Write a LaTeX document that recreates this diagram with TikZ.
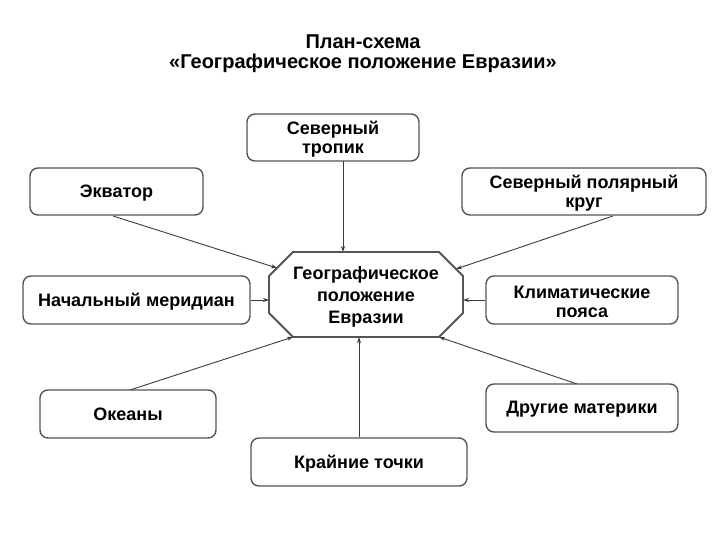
\documentclass[tikz,border=0pt]{standalone}
\usepackage{fontspec}
\setmainfont{Liberation Sans}
\usetikzlibrary{arrows.meta}
\definecolor{edge}{HTML}{555555}
\definecolor{lin}{HTML}{3A3A3A}
\tikzset{
  box/.style={draw=edge, line width=1.4pt, rounded corners=8pt, inner sep=0pt},
  lbl/.style={align=center, font=\fontsize{18}{19}\selectfont\bfseries, inner sep=0pt},
  conn/.style={draw=lin, line width=0.9pt, -{Stealth[length=6pt,width=4pt]}},
}
\begin{document}
\begin{tikzpicture}[x=1pt,y=-1pt]
\useasboundingbox (0,0) rectangle (720,540);
% title
\node[font=\fontsize{20}{20}\selectfont\bfseries, align=center] (title) at (363,54)
  {План-схема\\«Географическое положение Евразии»};
% boxes
\node[box, minimum width=172pt, minimum height=47pt] (trop) at (333,137.5) {};
\node[box, minimum width=173pt, minimum height=47pt] (ekv) at (116.5,191.5) {};
\node[box, minimum width=244pt, minimum height=47pt] (pol) at (584,191.5) {};
\node[box, minimum width=227pt, minimum height=48pt] (mer) at (136.5,300) {};
\node[box, minimum width=192pt, minimum height=48pt] (klim) at (582,300) {};
\node[box, minimum width=176pt, minimum height=48pt] (oke) at (128,414) {};
\node[box, minimum width=192pt, minimum height=48pt] (mat) at (582,408) {};
\node[box, minimum width=216pt, minimum height=48pt] (kr) at (359,462) {};
% labels
\node[lbl] (tropL) at ([yshift=-2pt]trop.center) {Северный\\тропик};
\node[lbl] (ekvL) at ([yshift=-2pt]ekv.center) {Экватор};
\node[lbl] (polL) at ([yshift=-2pt]pol.center) {Северный полярный\\круг};
\node[lbl] (merL) at ([yshift=-1.5pt]mer.center) {Начальный меридиан};
\node[lbl] (klimL) at ([yshift=-2pt]klim.center) {Климатические\\пояса};
\node[lbl] (okeL) at ([yshift=-0.5pt]oke.center) {Океаны};
\node[lbl] (matL) at ([yshift=-1.5pt]mat.center) {Другие материки};
\node[lbl] (krL) at ([yshift=-1.5pt]kr.center) {Крайние точки};
% octagon
\coordinate (o1) at (293,252);
\coordinate (o2) at (439,252);
\coordinate (o3) at (463,276);
\coordinate (o4) at (463,313);
\coordinate (o5) at (439,337);
\coordinate (o6) at (293,337);
\coordinate (o7) at (269,313);
\coordinate (o8) at (269,276);
\draw[draw=edge, line width=1.8pt] (o1)--(o2)--(o3)--(o4)--(o5)--(o6)--(o7)--(o8)--cycle;
\node[align=center, font=\fontsize{18}{22}\selectfont\bfseries, inner sep=0pt] (geo) at (366,296.5)
  {Географическое\\положение\\Евразии};
% connector targets
\coordinate (tTrop) at (343,252);
\coordinate (tEkv) at (277,268);
\coordinate (tPol) at (456,269);
\coordinate (tKlim) at (463,300);
\coordinate (tMer) at (269,300);
\coordinate (tOke) at (293,337);
\coordinate (tKr) at (359,337);
\coordinate (tMat) at (439,337);
\coordinate (sTrop) at (343,161);
\coordinate (sEkv) at (113,216);
\coordinate (sPol) at (613,216);
\coordinate (sOke) at (130,390);
\coordinate (sMat) at (577,384);
\draw[conn] (sTrop) -- (tTrop);
\draw[conn] (sEkv) -- (tEkv);
\draw[conn] (sPol) -- (tPol);
\draw[conn] (klim.west) -- (tKlim);
\draw[conn] (mer.east) -- (tMer);
\draw[conn] (sOke) -- (tOke);
\draw[conn] (kr.north) -- (tKr);
\draw[conn] (sMat) -- (tMat);
\end{tikzpicture}
\end{document}
